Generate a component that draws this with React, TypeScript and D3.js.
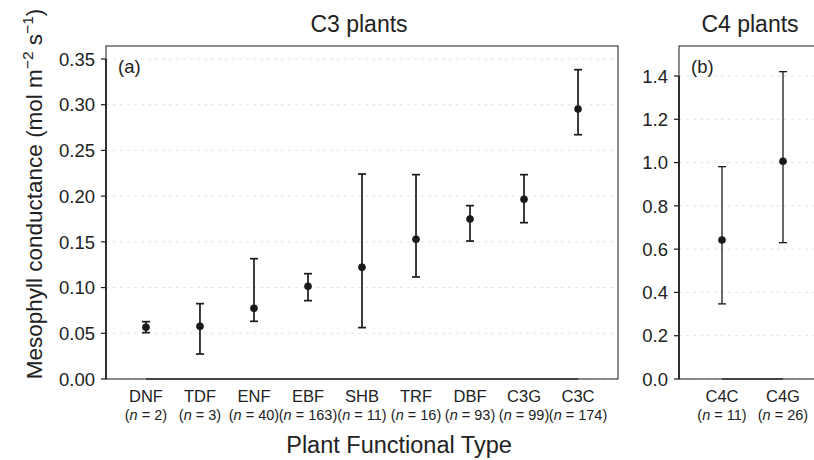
import React from "react";
import * as d3 from "d3";

const c3Categories = ["DNF", "TDF", "ENF", "EBF", "SHB", "TRF", "DBF", "C3G", "C3C"];
const c3N = [2, 3, 40, 163, 11, 16, 93, 99, 174];
const c3Mean = [0.0565, 0.0576, 0.0773, 0.1014, 0.1221, 0.1528, 0.175, 0.1965, 0.2953];
const c3Low = [0.0507, 0.0273, 0.0631, 0.0857, 0.0562, 0.1116, 0.1509, 0.171, 0.2672];
const c3High = [0.0627, 0.0824, 0.1316, 0.1152, 0.2242, 0.2235, 0.1896, 0.2235, 0.3383];
const c3Ticks = [0, 0.05, 0.1, 0.15, 0.2, 0.25, 0.3, 0.35];

const c4Categories = ["C4C", "C4G"];
const c4N = [11, 26];
const c4Mean = [0.642, 1.006];
const c4Low = [0.347, 0.63];
const c4High = [0.981, 1.42];
const c4Ticks = [0, 0.2, 0.4, 0.6, 0.8, 1.0, 1.2, 1.4];

const FONT = "'Liberation Sans', Arial, Helvetica, sans-serif";
const INK = "#1a1a1a";

type PanelProps = {
  cats: string[];
  ns: number[];
  mean: number[];
  low: number[];
  high: number[];
  ticks: number[];
  tickFmt: (v: number) => string;
  left: number;
  right: number;
  top: number;
  bottom: number;
  yTopTick: number;
  yTopPx: number;
  padding: number;
  title: string;
  titleX: number;
  tag: string;
  lw: number;
};

function Panel(p: PanelProps) {
  const x = d3.scalePoint<string>().domain(p.cats).range([p.left, p.right]).padding(p.padding);
  const y = d3.scaleLinear().domain([0, p.yTopTick]).range([p.bottom, p.yTopPx]);
  const first = x(p.cats[0]) as number;
  const last = x(p.cats[p.cats.length - 1]) as number;
  return (
    <g fontFamily={FONT}>
      {p.ticks.map((t) => (
        <line key={"g" + t} x1={p.left} x2={p.right} y1={y(t)} y2={y(t)} stroke="#dcdcdc" strokeWidth={0.8} strokeDasharray="3,4" />
      ))}
      <rect x={p.left} y={p.top} width={p.right - p.left} height={p.bottom - p.top} fill="none" stroke={INK} strokeWidth={1} />
      <line x1={p.left} x2={p.left} y1={y(0)} y2={y(p.ticks[p.ticks.length - 1])} stroke={INK} strokeWidth={1.6} />
      {p.ticks.map((t) => (
        <g key={"t" + t}>
          <line x1={p.left - 5} x2={p.left} y1={y(t)} y2={y(t)} stroke={INK} strokeWidth={1.2} />
          <text x={p.left - 11} y={y(t)} dy="0.36em" textAnchor="end" fontSize={18.5} fill="#222">{p.tickFmt(t)}</text>
        </g>
      ))}
      <line x1={first} x2={last} y1={p.bottom} y2={p.bottom} stroke="#444" strokeWidth={1.8} />
      {p.cats.map((c, i) => {
        const cx = x(c) as number;
        return (
          <g key={c}>
            <text x={cx} y={p.bottom + 23} textAnchor="middle" fontSize={16.5} fill="#222">{c}</text>
            <text x={cx} y={p.bottom + 41} textAnchor="middle" fontSize={14.5} fill="#222">
              (<tspan fontStyle="italic">n</tspan> = {p.ns[i]})
            </text>
            <line x1={cx} x2={cx} y1={y(p.low[i])} y2={y(p.high[i])} stroke={INK} strokeWidth={p.lw} />
            <line x1={cx - 4} x2={cx + 4} y1={y(p.low[i])} y2={y(p.low[i])} stroke={INK} strokeWidth={p.lw} />
            <line x1={cx - 4} x2={cx + 4} y1={y(p.high[i])} y2={y(p.high[i])} stroke={INK} strokeWidth={p.lw} />
            <circle cx={cx} cy={y(p.mean[i])} r={3.8} fill={INK} />
          </g>
        );
      })}
      <text x={p.left + 12} y={p.top + 27} fontSize={18.5} fill="#222">{p.tag}</text>
      <text x={p.titleX} y={p.top - 14} textAnchor="middle" fontSize={23} fill="#222">{p.title}</text>
    </g>
  );
}

export default function App() {
  const W = 814;
  const H = 460;
  const bottom = 379;
  const top = 46;
  return (
    <svg width={W} height={H} style={{ position: "absolute", left: 0, top: 0, background: "#fff" }}>
      <Panel
        cats={c3Categories}
        ns={c3N}
        mean={c3Mean}
        low={c3Low}
        high={c3High}
        ticks={c3Ticks}
        tickFmt={d3.format(".2f")}
        left={106}
        right={618}
        top={top}
        bottom={bottom}
        yTopTick={0.35}
        yTopPx={59}
        padding={0.74}
        title="C3 plants"
        titleX={359}
        tag="(a)"
        lw={1.7}
      />
      <Panel
        cats={c4Categories}
        ns={c4N}
        mean={c4Mean}
        low={c4Low}
        high={c4High}
        ticks={c4Ticks}
        tickFmt={d3.format(".1f")}
        left={679}
        right={826}
        top={top}
        bottom={bottom}
        yTopTick={1.4}
        yTopPx={76}
        padding={0.705}
        title="C4 plants"
        titleX={750}
        tag="(b)"
        lw={1.3}
      />
      <text
        transform={`translate(42, 194) rotate(-90)`}
        textAnchor="middle"
        fontFamily={FONT}
        fontSize={22.5}
        fill="#222"
      >
        Mesophyll conductance (mol m
        <tspan fontSize={15.5} dy={-9}>−2</tspan>
        <tspan dy={9}> s</tspan>
        <tspan fontSize={15.5} dy={-9}>−1</tspan>
        <tspan dy={9}>)</tspan>
      </text>
      <text x={399} y={453} textAnchor="middle" fontFamily={FONT} fontSize={23.5} fill="#222">
        Plant Functional Type
      </text>
    </svg>
  );
}
